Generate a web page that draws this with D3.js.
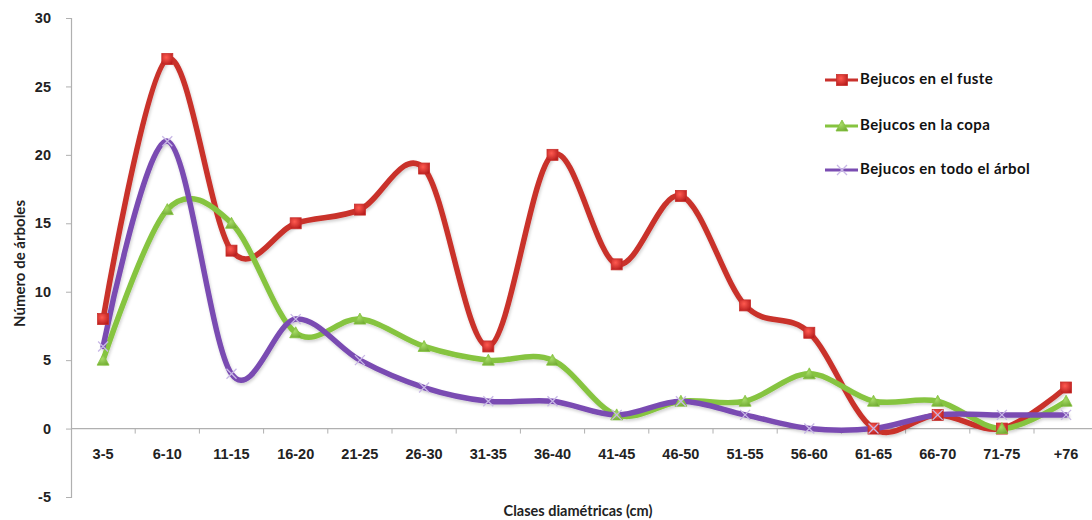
<!DOCTYPE html>
<html>
<head>
<meta charset="utf-8">
<script src="https://cdn.jsdelivr.net/npm/d3@7"></script>
<style>
  html, body { margin: 0; padding: 0; background: #fff; }
  svg { display: block; font-family: Lato, "Open Sans", sans-serif; }
</style>
</head>
<body>
<svg id="chart" width="1092" height="520"></svg>
<script>
// Diameter classes (cm)
const categories = ["3-5","6-10","11-15","16-20","21-25","26-30","31-35","36-40",
                    "41-45","46-50","51-55","56-60","61-65","66-70","71-75","+76"];

// Number of trees per class
const fuste = [8, 27, 13, 15, 16, 19, 6, 20, 12, 17, 9, 7, 0, 1, 0, 3];
const copa  = [5, 16, 15, 7, 8, 6, 5, 5, 1, 2, 2, 4, 2, 2, 0, 2];
const todo  = [6, 21, 4, 8, 5, 3, 2, 2, 1, 2, 1, 0, 0, 1, 1, 1];

const yTicks = [-5, 0, 5, 10, 15, 20, 25, 30];

const seriesNames = ["Bejucos en el fuste", "Bejucos en la copa", "Bejucos en todo el árbol"];

const series = [
  { name: seriesNames[0], values: fuste, color: "#c9302c", marker: "square" },
  { name: seriesNames[1], values: copa,  color: "#86c440", marker: "triangle" },
  { name: seriesNames[2], values: todo,  color: "#7a4cb2", marker: "cross" }
];

const svg = d3.select("#chart");
const W = 1092, H = 520;
const left = 71, bandW = 64.2;
const plotTop = 18, plotBottom = 497;
const FS = 14.5;

const x = d3.scaleBand().domain(categories).range([left, left + bandW * categories.length]);
const xc = d => x(d) + x.bandwidth() / 2;
const y = d3.scaleLinear().domain([-5, 30]).range([plotBottom, plotTop]);

const defs = svg.append("defs");
const sh = defs.append("filter").attr("id", "shadow")
  .attr("x", "-5%").attr("y", "-5%").attr("width", "110%").attr("height", "120%");
sh.append("feDropShadow").attr("dx", 1).attr("dy", 2).attr("stdDeviation", 1.5)
  .attr("flood-color", "#000").attr("flood-opacity", 0.18);
const soft = defs.append("filter").attr("id", "soft");
soft.append("feGaussianBlur").attr("stdDeviation", 0.5);

const grad = defs.append("radialGradient").attr("id", "redMark")
  .attr("cx", "40%").attr("cy", "35%").attr("r", "70%");
grad.append("stop").attr("offset", "0%").attr("stop-color", "#ff5a50");
grad.append("stop").attr("offset", "100%").attr("stop-color", "#b81e1e");
const gGrad = defs.append("radialGradient").attr("id", "greenMark")
  .attr("cx", "40%").attr("cy", "40%").attr("r", "70%");
gGrad.append("stop").attr("offset", "0%").attr("stop-color", "#a8dc68");
gGrad.append("stop").attr("offset", "100%").attr("stop-color", "#6ea830");

// Y axis
const yAxis = d3.axisLeft(y).tickValues(yTicks).tickSize(5).tickPadding(15)
  .tickFormat(d => String(d));
const gy = svg.append("g").attr("transform", `translate(${left},0)`).call(yAxis);
gy.select(".domain").attr("stroke", "#b0b0b0").attr("stroke-width", 1.2);
gy.selectAll(".tick line").attr("stroke", "#b0b0b0");
gy.selectAll(".tick text").attr("font-size", FS).attr("font-weight", 700).attr("fill", "#222");

// X axis at zero
const xAxis = d3.axisBottom(x).tickSize(0).tickPadding(20);
const gx = svg.append("g").attr("transform", `translate(0,${y(0)})`).call(xAxis);
gx.select(".domain").remove();
gx.append("line").attr("x1", left).attr("x2", W).attr("y1", 0).attr("y2", 0)
  .attr("stroke", "#b0b0b0").attr("stroke-width", 1.2);
gx.selectAll(".tick text").attr("font-size", FS).attr("font-weight", 700).attr("fill", "#222");
// category boundary ticks
gx.selectAll(".bnd").data(categories.slice(1)).join("line")
  .attr("x1", d => x(d)).attr("x2", d => x(d)).attr("y1", 0).attr("y2", 5)
  .attr("stroke", "#b0b0b0");

// Axis titles
svg.append("text").attr("transform", `translate(21,${(plotTop + plotBottom) / 2 + 6}) rotate(-90)`)
  .attr("text-anchor", "middle").attr("dominant-baseline", "middle")
  .attr("font-size", 15).attr("font-weight", 700).attr("fill", "#222")
  .text("Número de árboles");
svg.append("text").attr("x", 578).attr("y", 516)
  .attr("text-anchor", "middle")
  .attr("font-size", FS).attr("font-weight", 700).attr("fill", "#222")
  .text("Clases diamétricas (cm)");

// Smoothed lines
const line = d3.line()
  .x((d, i) => xc(categories[i]))
  .y(d => y(d))
  .curve(d3.curveCardinal.tension(0));

const lines = svg.append("g").attr("filter", "url(#shadow)");
series.forEach(s => {
  lines.append("path").datum(s.values)
    .attr("d", line).attr("fill", "none")
    .attr("stroke", s.color).attr("stroke-width", 5.5)
    .attr("stroke-linejoin", "round").attr("stroke-linecap", "round");
});

function drawMarker(g, type, cx, cy) {
  if (type === "square") {
    g.append("rect").attr("x", cx - 5.5).attr("y", cy - 5.5).attr("width", 11).attr("height", 11)
      .attr("fill", "url(#redMark)").attr("stroke", "#c9302c").attr("stroke-width", 0.8);
  } else if (type === "triangle") {
    g.append("path")
      .attr("d", `M${cx},${cy - 6}L${cx + 6},${cy + 5}L${cx - 6},${cy + 5}Z`)
      .attr("fill", "url(#greenMark)").attr("stroke", "#86c440").attr("stroke-width", 0.8);
  } else {
    g.append("path")
      .attr("d", `M${cx - 5},${cy - 5}L${cx + 5},${cy + 5}M${cx - 5},${cy + 5}L${cx + 5},${cy - 5}`)
      .attr("stroke", "#c8b8e6").attr("stroke-width", 1.3).attr("fill", "none");
  }
}

const marks = svg.append("g").attr("filter", "url(#soft)");
series.forEach(s => {
  s.values.forEach((v, i) => drawMarker(marks, s.marker, xc(categories[i]), y(v)));
});

// Legend
const legendY = [80, 126, 170];
const lg = svg.append("g");
series.forEach((s, i) => {
  const ly = legendY[i];
  lg.append("line").attr("x1", 825).attr("x2", 858).attr("y1", ly).attr("y2", ly)
    .attr("stroke", s.color).attr("stroke-width", 3);
  drawMarker(lg, s.marker, 842, ly);
  lg.append("text").attr("x", 860).attr("y", ly).attr("dominant-baseline", "middle")
    .attr("font-size", 15).attr("font-weight", 700).attr("fill", "#111")
    .attr("letter-spacing", 0.4)
    .text(s.name);
});
</script>
</body>
</html>
